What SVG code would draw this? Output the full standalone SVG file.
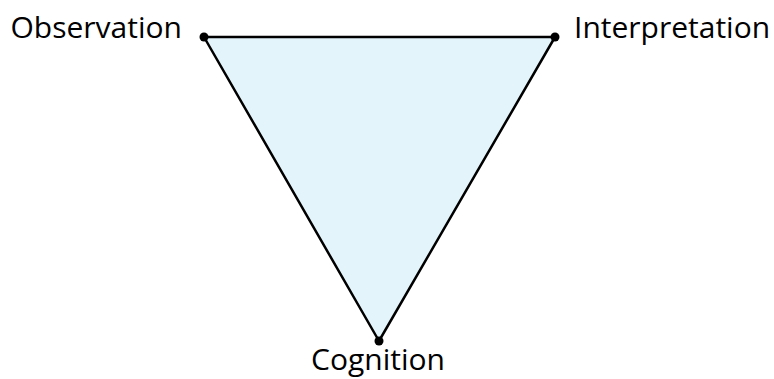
<svg xmlns="http://www.w3.org/2000/svg" width="774" height="379" viewBox="0 0 774 379">
<style>
.lbl{font-family:"Open Sans","Noto Sans",sans-serif;font-size:30px;fill:#000}
.dot{fill:#000}
</style>
<rect width="774" height="379" fill="#fff"/>
<g id="edges">
<polygon points="204,37 555,37 379,341" fill="#E3F4FB" stroke="#000" stroke-width="2.5" stroke-linejoin="round"/>
</g>
<g id="observation">
<circle class="dot" cx="204" cy="37" r="4.5"/>
<text class="lbl" x="182" y="38" text-anchor="end">Observation</text>
</g>
<g id="interpretation">
<circle class="dot" cx="555" cy="37" r="4.5"/>
<text class="lbl" x="574" y="38">Interpretation</text>
</g>
<g id="cognition">
<circle class="dot" cx="379" cy="341" r="4.5"/>
<text class="lbl" x="378" y="370" text-anchor="middle">Cognition</text>
</g>
</svg>
